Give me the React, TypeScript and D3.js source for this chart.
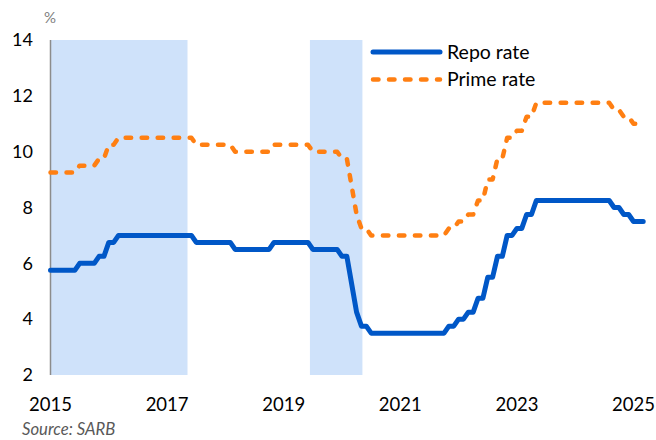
import React from "react";
import * as d3 from "d3";

// Monthly dates (decimal years) from Jan 2015 to Mar 2025 are built from year/month lists
const years = [2015, 2016, 2017, 2018, 2019, 2020, 2021, 2022, 2023, 2024, 2025];

// Repo rate, monthly, Jan 2015 .. Mar 2025
const repo2015 = [5.75, 5.75, 5.75, 5.75, 5.75, 5.75, 6.0, 6.0, 6.0, 6.0, 6.25, 6.25];
const repo2016 = [6.75, 6.75, 7.0, 7.0, 7.0, 7.0, 7.0, 7.0, 7.0, 7.0, 7.0, 7.0];
const repo2017 = [7.0, 7.0, 7.0, 7.0, 7.0, 7.0, 6.75, 6.75, 6.75, 6.75, 6.75, 6.75];
const repo2018 = [6.75, 6.75, 6.5, 6.5, 6.5, 6.5, 6.5, 6.5, 6.5, 6.5, 6.75, 6.75];
const repo2019 = [6.75, 6.75, 6.75, 6.75, 6.75, 6.75, 6.5, 6.5, 6.5, 6.5, 6.5, 6.5];
const repo2020 = [6.25, 6.25, 5.25, 4.25, 3.75, 3.75, 3.5, 3.5, 3.5, 3.5, 3.5, 3.5];
const repo2021 = [3.5, 3.5, 3.5, 3.5, 3.5, 3.5, 3.5, 3.5, 3.5, 3.5, 3.75, 3.75];
const repo2022 = [4.0, 4.0, 4.25, 4.25, 4.75, 4.75, 5.5, 5.5, 6.25, 6.25, 7.0, 7.0];
const repo2023 = [7.25, 7.25, 7.75, 7.75, 8.25, 8.25, 8.25, 8.25, 8.25, 8.25, 8.25, 8.25];
const repo2024 = [8.25, 8.25, 8.25, 8.25, 8.25, 8.25, 8.25, 8.25, 8.0, 8.0, 7.75, 7.75];
const repo2025 = [7.5, 7.5, 7.5];

// Prime rate, monthly, Jan 2015 .. Mar 2025
const prime2015 = [9.25, 9.25, 9.25, 9.25, 9.25, 9.25, 9.5, 9.5, 9.5, 9.5, 9.75, 9.75];
const prime2016 = [10.25, 10.25, 10.5, 10.5, 10.5, 10.5, 10.5, 10.5, 10.5, 10.5, 10.5, 10.5];
const prime2017 = [10.5, 10.5, 10.5, 10.5, 10.5, 10.5, 10.25, 10.25, 10.25, 10.25, 10.25, 10.25];
const prime2018 = [10.25, 10.25, 10.0, 10.0, 10.0, 10.0, 10.0, 10.0, 10.0, 10.0, 10.25, 10.25];
const prime2019 = [10.25, 10.25, 10.25, 10.25, 10.25, 10.25, 10.0, 10.0, 10.0, 10.0, 10.0, 10.0];
const prime2020 = [9.75, 9.75, 8.75, 7.75, 7.25, 7.25, 7.0, 7.0, 7.0, 7.0, 7.0, 7.0];
const prime2021 = [7.0, 7.0, 7.0, 7.0, 7.0, 7.0, 7.0, 7.0, 7.0, 7.0, 7.25, 7.25];
const prime2022 = [7.5, 7.5, 7.75, 7.75, 8.25, 8.25, 9.0, 9.0, 9.75, 9.75, 10.5, 10.5];
const prime2023 = [10.75, 10.75, 11.25, 11.25, 11.75, 11.75, 11.75, 11.75, 11.75, 11.75, 11.75, 11.75];
const prime2024 = [11.75, 11.75, 11.75, 11.75, 11.75, 11.75, 11.75, 11.75, 11.5, 11.5, 11.25, 11.25];
const prime2025 = [11.0, 11.0, 11.0];

const repoByYear = [repo2015, repo2016, repo2017, repo2018, repo2019, repo2020, repo2021, repo2022, repo2023, repo2024, repo2025];
const primeByYear = [prime2015, prime2016, prime2017, prime2018, prime2019, prime2020, prime2021, prime2022, prime2023, prime2024, prime2025];

// Shaded periods (decimal years)
const shadeStarts = [2015.0, 2019.45];
const shadeEnds = [2017.35, 2020.35];

const xTicks = [2015, 2017, 2019, 2021, 2023, 2025];
const yTicks = [2, 4, 6, 8, 10, 12, 14];
const seriesNames = ["Repo rate", "Prime rate"];

type Pt = { t: number; v: number };
function toPoints(byYear: number[][]): Pt[] {
  const out: Pt[] = [];
  byYear.forEach((arr, i) => arr.forEach((v, m) => out.push({ t: years[i] + m / 12, v })));
  return out;
}

export default function App() {
  const W = 656, H = 440;
  const x = d3.scaleLinear().domain([2015, 2025]).range([50.5, 633.5]);
  const y = d3.scaleLinear().domain([2, 14]).range([375, 40]);
  const line = d3.line<Pt>().x((d) => x(d.t)).y((d) => y(d.v));
  const repo = toPoints(repoByYear);
  const prime = toPoints(primeByYear);
  const font = "Lato, 'Open Sans', sans-serif";
  const blue = "#0057C7";
  const orange = "#FF7F12";

  return (
    <svg width={W} height={H} style={{ position: "absolute", left: 0, top: 0 }} fontFamily={font}>
      <rect width={W} height={H} fill="#fff" />
      {shadeStarts.map((s, i) => (
        <rect key={i} x={x(s)} y={y(14)} width={x(shadeEnds[i]) - x(s)} height={y(2) - y(14)} fill="#CFE2FA" />
      ))}
      <line x1={x(2015)} x2={x(2015)} y1={y(14)} y2={y(2)} stroke="#8C8C8C" strokeWidth={1.5} />
      {yTicks.map((t) => (
        <text key={t} x={33} y={y(t)} dy="0.35em" textAnchor="end" fontSize={18} fill="#000">{t}</text>
      ))}
      {xTicks.map((t) => (
        <text key={t} x={x(t)} y={405} dy="0.35em" textAnchor="middle" fontSize={18.5} fill="#000">{t}</text>
      ))}
      <text x={50} y={18} dy="0.35em" textAnchor="middle" fontSize={15} fill="#7F7F7F">%</text>
      <text x={22} y={429} dy="0.35em" fontSize={16.7} fontStyle="italic" fill="#595959">Source: SARB</text>

      <path d={line(prime) || ""} fill="none" stroke={orange} strokeWidth={4.5} strokeDasharray="5.5 10.5" strokeLinecap="round" strokeLinejoin="round" />
      <path d={line(repo) || ""} fill="none" stroke={blue} strokeWidth={5} strokeLinecap="round" strokeLinejoin="round" />

      <line x1={373} x2={440} y1={52} y2={52} stroke={blue} strokeWidth={5} strokeLinecap="round" />
      <line x1={373} x2={440} y1={79.5} y2={79.5} stroke={orange} strokeWidth={4.5} strokeDasharray="5.5 10.5" strokeLinecap="round" />
      <text x={447} y={52} dy="0.35em" fontSize={19.5} fill="#000">{seriesNames[0]}</text>
      <text x={447} y={79.5} dy="0.35em" fontSize={19.5} fill="#000">{seriesNames[1]}</text>
    </svg>
  );
}
